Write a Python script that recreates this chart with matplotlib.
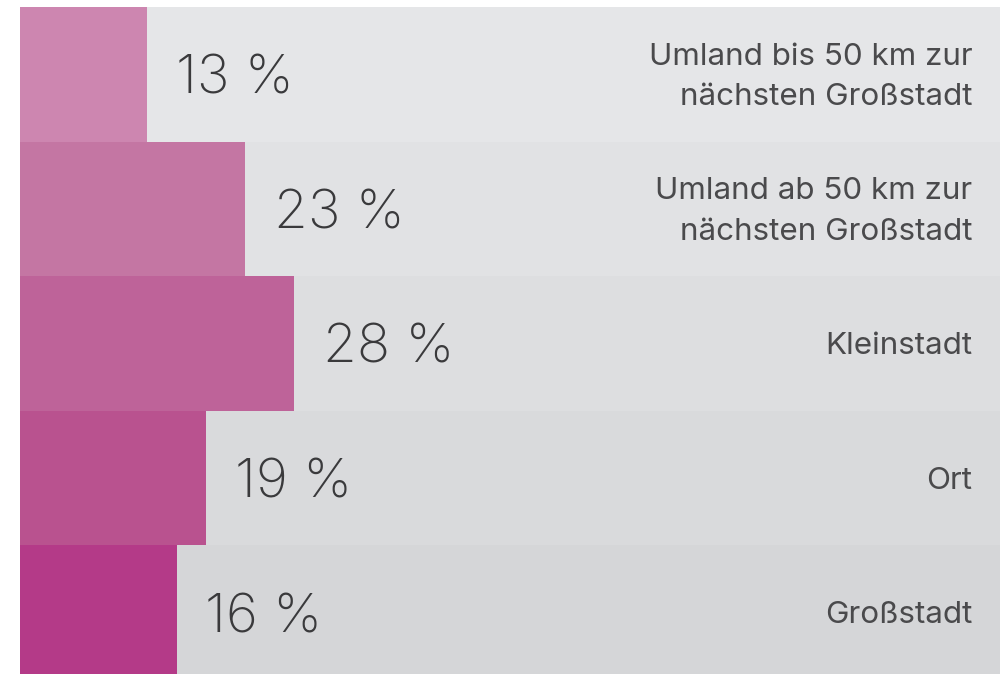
import matplotlib
matplotlib.use("Agg")
from matplotlib import pyplot as plt

# Daten
kategorien = ["Umland bis 50 km zur\nnächsten Großstadt",
              "Umland ab 50 km zur\nnächsten Großstadt",
              "Kleinstadt",
              "Ort",
              "Großstadt"]
anteile = [13, 23, 28, 19, 16]

balken_farben = ["#CD86B0", "#C476A3", "#BE6399", "#B9528F", "#B43A88"]
hintergrund = ["#E5E6E8", "#E1E2E4", "#DDDEE0", "#D9DADC", "#D5D6D8"]

plt.rcParams['font.family'] = ['Inter', 'DejaVu Sans']

fig = plt.figure(figsize=(10.03, 6.74), dpi=100)
# Achse reicht unten leicht über den Bildrand hinaus (letzte Zeile abgeschnitten)
ax = fig.add_axes([20/1003, -6/674, 980/1003, 673/674])

y = list(range(len(anteile)))
ax.barh(y, [100]*len(anteile), height=1.0, color=hintergrund, linewidth=0)
ax.barh(y, anteile, height=1.0, color=balken_farben, linewidth=0)

for i, (v, k) in enumerate(zip(anteile, kategorien)):
    ax.text(v + 2.9, i + 0.04, f"{v} %", fontsize=39.5, color="#3a3a3c",
            va="center", ha="left", fontweight="light")
    ax.text(97.2, i + 0.02, k, fontsize=22.6, color="#4a4a4c", va="center",
            ha="right", linespacing=1.56, fontweight="normal")

ax.set_xlim(0, 100)
ax.set_ylim(4.5, -0.5)
ax.axis("off")

fig.savefig("out.png", dpi=100)
